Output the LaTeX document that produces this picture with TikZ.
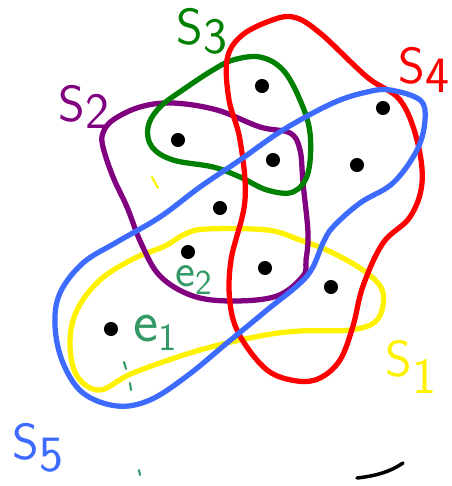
\documentclass[tikz,border=0pt]{standalone}
\usetikzlibrary{positioning}

\definecolor{penred}{HTML}{FF0000}
\definecolor{pengreen}{HTML}{008000}
\definecolor{penpurple}{HTML}{800080}
\definecolor{penblue}{HTML}{3D6BFF}
\definecolor{penyellow}{HTML}{FFF200}
\definecolor{penteal}{HTML}{339966}

\begin{document}
\begin{tikzpicture}[
		x=0.02cm, y=-0.02cm,
		% --- ESTILOS ---
		pen/.style = {line width=3pt, line cap=round, line join=round},
		tick/.style = {line width=1.2pt, line cap=round},
		dot/.style = {circle, fill=black, inner sep=0pt, minimum size=8pt},
		setlabel/.style = {font=\sffamily\fontsize{29}{29}\selectfont, inner sep=0pt},
		edgelabel/.style = {font=\sffamily\fontsize{34}{34}\selectfont, inner sep=0pt, text=penteal}
		]
		
		\useasboundingbox (0,0) rectangle (451,486);
		
		% --- CONJUNTOS ---
		% S1: amarillo
		\draw [pen, penyellow] plot [smooth cycle, tension=0.6] coordinates {
			(185,234) (207,229) (267,230) (300,240) (333,253) (367,273) (383,293)
			(377,320) (350,330) (300,331) (260,336) (200,350) (133,373) (100,390)
			(77,376) (70,343) (77,310) (100,280) (133,259) (165,246)};
		% S2: morado
		\draw [pen, penpurple] plot [smooth cycle, tension=0.6] coordinates {
			(103,133) (113,120) (140,107) (173,103) (217,110) (260,127) (290,133)
			(300,150) (303,183) (308,233) (306,260) (303,276) (277,296) (233,301)
			(193,296) (160,276) (141,243) (127,207) (113,177) (103,147)};
		% S3: verde
		\draw [pen, pengreen] plot [smooth cycle, tension=0.6] coordinates {
			(233,60) (260,57) (283,70) (300,100) (310,133) (308,173) (293,192)
			(267,190) (240,177) (213,167) (173,160) (152,147) (148,127) (160,107)
			(187,87) (213,70)};
		% S4: rojo
		\draw [pen, penred] plot [smooth cycle, tension=0.6] coordinates {
			(240,37) (267,22) (293,17) (320,33) (367,77) (400,100) (417,140)
			(422,183) (410,217) (383,243) (363,286) (353,326) (340,360) (320,378)
			(297,381) (267,370) (240,336) (230,303) (231,260) (245,200) (240,140)
			(229,100) (227,60)};
		% S5: azul
		\draw [pen, penblue] plot [smooth cycle, tension=0.6] coordinates {
			(390,90) (420,100) (425,120) (417,150) (393,183) (360,203) (333,227)
			(323,243) (307,276) (267,310) (227,343) (187,376) (150,400) (117,406)
			(83,393) (63,363) (55,326) (60,293) (83,263) (117,242) (160,217)
			(200,187) (240,160) (283,130) (333,103) (367,92)};
		
		% --- VERTICES ---
		\node [dot] (v1) at (262,86) {};
		\node [dot] (v2) at (383,108) {};
		\node [dot] (v3) at (178,140) {};
		\node [dot] (v4) at (273,160) {};
		\node [dot] (v5) at (357,165) {};
		\node [dot] (v6) at (220,208) {};
		\node [dot] (v7) at (188,252) {};
		\node [dot] (v8) at (265,268) {};
		\node [dot] (v9) at (331,287) {};
		\node [dot] (v10) at (111,329) {};
		
		% --- ETIQUETAS ---
		\node [setlabel, text=pengreen] (s3) at (202,31) {S\raisebox{-5pt}{3}};
		\node [setlabel, text=penpurple] (s2) at (84,107) {S\raisebox{-4pt}{2}};
		\node [setlabel, text=penred] (s4) at (424,70) {S\raisebox{-5pt}{4}};
		\node [setlabel, text=penyellow] (s1) at (411,367) {S\raisebox{-10pt}{1}};
		\node [setlabel, text=penblue] (s5) at (38,448) {S\raisebox{-7pt}{5}};
		\node [edgelabel, font=\sffamily\fontsize{27}{27}\selectfont] (e2) at (194,280) {e\raisebox{-4pt}{\fontsize{20}{20}\selectfont 2}};
		\node [edgelabel] (e1) at (155,333) {e\raisebox{-5pt}{\fontsize{22}{22}\selectfont 1}};
		
		% --- TRAZOS SUELTOS ---
		\draw [tick, penyellow] (152,177) -- (158,188);
		\draw [tick, penteal] (124,362) -- (126,369);
		\draw [tick, penteal] (130,383) -- (131,390);
		\draw [tick, penteal] (139,470) -- (140,475);
		\draw [line width=2pt, line cap=round] (357,478) .. controls (375,476) and (390,472) .. (403,463);
		
	\end{tikzpicture}
\end{document}
